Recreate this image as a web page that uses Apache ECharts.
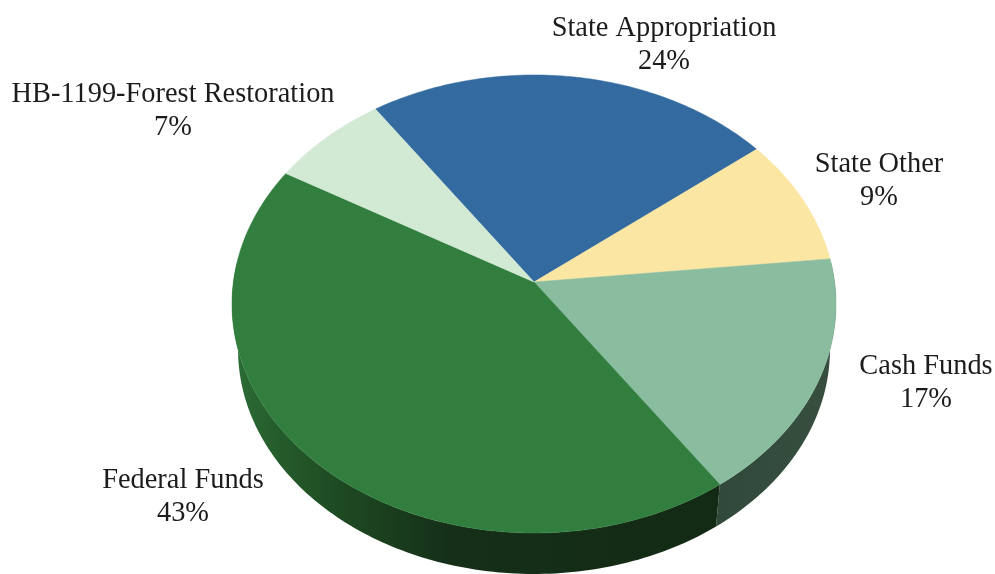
<!DOCTYPE html>
<html>
<head>
<meta charset="utf-8">
<style>html,body{margin:0;padding:0;background:#fff}#c{width:995px;height:574px}</style>
<script src="https://cdn.jsdelivr.net/npm/echarts@6/dist/echarts.min.js"></script>
</head>
<body>
<div id="c"></div>
<script>
const categories = ['State Appropriation', 'State Other', 'Cash Funds', 'Federal Funds', 'HB-1199-Forest Restoration'];
const values = [24, 9, 17, 43, 7];

const topColors = ['#336a9f', '#fbe6a4', '#8abd9f', '#317e3e', '#d2e9d4'];
const sideStops = [null, null,
  [[0, '#30493a'], [1, '#384f40']],
  [[0, '#2c6e37'], [0.08, '#265e2d'], [0.22, '#1e4a22'], [0.45, '#152f18'], [1, '#132a14']],
  null];
const labelCentres = [[664, 45], [879, 181], [926, 383], [183, 497], [173, 111]];

const view = { cx: 534, cy: 282, a: 300.6, b: 226.9, k: -0.096, depth: 46, bottomScale: 0.98,
               startDeg: -34.7, sideFrom: 85, sideTo: 275 };
const total = values.reduce((s, v) => s + v, 0);

function project(deg, lower) {
  const t = deg * Math.PI / 180, x = Math.sin(t), y = -Math.cos(t);
  const w = 1 + view.k * y;
  const s = lower ? view.bottomScale : 1;
  return [view.cx + s * view.a * x / w, view.cy + s * view.b * y / w + (lower ? view.depth : 0)];
}
function arc(from, to, lower) {
  const pts = [], n = Math.max(2, Math.ceil(Math.abs(to - from)));
  for (let i = 0; i <= n; i++) pts.push(project(from + (to - from) * i / n, lower));
  return pts;
}

function renderItem(params, api) {
  const i = params.dataIndex;
  let before = 0;
  for (let j = 0; j < i; j++) before += values[j];
  const from = view.startDeg + before / total * 360;
  const to = from + api.value(0) / total * 360;
  const children = [];
  const lo = Math.max(from, view.sideFrom), hi = Math.min(to, view.sideTo);
  if (sideStops[i] && hi > lo) {
    const pts = arc(lo, hi, false).concat(arc(hi, lo, true));
    children.push({
      type: 'polygon', z2: 1, shape: { points: pts },
      style: { fill: new echarts.graphic.LinearGradient(0, 0, 1, 0,
        sideStops[i].map(s => ({ offset: s[0], color: s[1] }))) }
    });
  }
  const face = [[view.cx, view.cy]].concat(arc(from, to, false));
  children.push({
    type: 'polygon', z2: 10, shape: { points: face },
    style: { fill: topColors[i], stroke: topColors[i], lineWidth: 0.5 }
  });
  children.push({
    type: 'text', z2: 20, x: labelCentres[i][0], y: labelCentres[i][1],
    style: {
      text: categories[i] + '\n' + api.value(0) + '%',
      align: 'center', verticalAlign: 'middle',
      font: '28.4px "Liberation Serif", serif', lineHeight: 33, fill: '#1c1c1c'
    }
  });
  return { type: 'group', children };
}

const chart = echarts.init(document.getElementById('c'), null, { renderer: 'canvas' });
chart.setOption({
  animation: false,
  backgroundColor: '#ffffff',
  series: [{
    type: 'custom', coordinateSystem: 'none', silent: true,
    data: values.map((v, i) => ({ name: categories[i], value: [v] })),
    renderItem
  }]
});
</script>
</body>
</html>
